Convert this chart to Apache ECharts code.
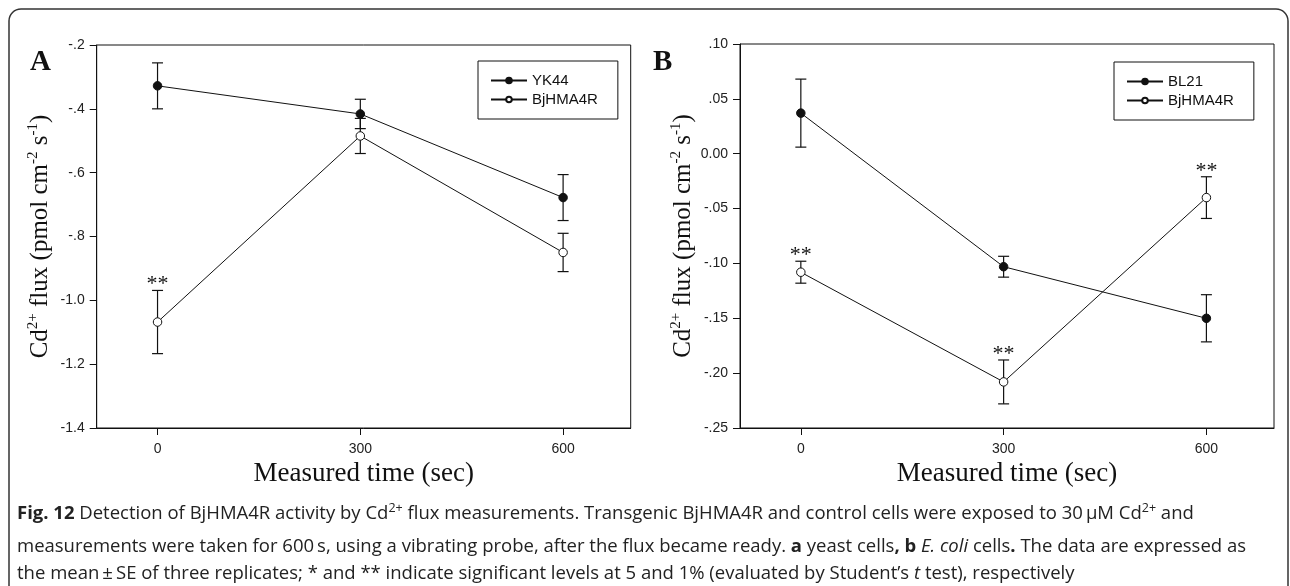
<!DOCTYPE html>
<html><head><meta charset="utf-8">
<script src="https://cdn.jsdelivr.net/npm/echarts@6/dist/echarts.min.js"></script>
<style>html,body{margin:0;padding:0;background:#fff}#c{width:1290px;height:586px}</style>
</head><body><div id="c"></div>
<script>
// ---------- data ----------
const times = [0, 300, 600];
const xTicks = [0, 300, 600];
// Panel A: yeast cells
const aYK44 = [-0.328, -0.416, -0.678];
const aYK44SE = [0.072, 0.046, 0.072];
const aBjHMA4R = [-1.068, -0.485, -0.850];
const aBjHMA4RSE = [0.099, 0.055, 0.060];
const aStars = [1, 0, 0];
// Panel B: E. coli cells
const bBL21 = [0.037, -0.103, -0.150];
const bBL21SE = [0.031, 0.0095, 0.0215];
const bBjHMA4R = [-0.108, -0.208, -0.040];
const bBjHMA4RSE = [0.010, 0.020, 0.019];
const bStars = [1, 1, 1];

const INK = '#111';
function fmt(d) {
  return function (v) {
    if (Math.abs(v) < 1e-9) return (0).toFixed(d);
    let s = Math.abs(v).toFixed(d);
    if (s.charAt(0) === '0') s = s.slice(1);
    return (v < 0 ? '-' : '') + s;
  };
}
function errData(m, se, st) {
  return times.map((t, i) => [t, m[i], se[i], st ? st[i] : 0]);
}
function errRender(params, api) {
  const x = api.value(0), m = api.value(1), se = api.value(2), star = api.value(3);
  const top = api.coord([x, m + se]);
  const bot = api.coord([x, m - se]);
  const hw = 5.5;
  const st = { stroke: INK, lineWidth: 1.2 };
  const ch = [
    { type: 'line', shape: { x1: top[0], y1: top[1], x2: bot[0], y2: bot[1] }, style: st },
    { type: 'line', shape: { x1: top[0] - hw, y1: top[1], x2: top[0] + hw, y2: top[1] }, style: st },
    { type: 'line', shape: { x1: bot[0] - hw, y1: bot[1], x2: bot[0] + hw, y2: bot[1] }, style: st }
  ];
  if (star) {
    ch.push({ type: 'text', style: { text: '**', x: top[0], y: top[1] - 6, align: 'center', verticalAlign: 'middle',
      fontSize: 22, fontFamily: '"Liberation Serif", "Times New Roman", serif', fill: INK } });
  }
  return { type: 'group', children: ch };
}
function lineSeries(name, idx, data, filled) {
  return {
    type: 'line', name: name, xAxisIndex: idx, yAxisIndex: idx,
    data: times.map((t, i) => [t, data[i]]),
    symbol: 'circle', symbolSize: 8.5,
    lineStyle: { color: INK, width: 1 },
    itemStyle: { color: filled ? INK : '#fff', borderColor: INK, borderWidth: 1 },
    z: 5, animation: false
  };
}
function errSeries(idx, m, se, st) {
  return { type: 'custom', name: 'err' + idx + m[0], xAxisIndex: idx, yAxisIndex: idx,
    data: errData(m, se, st), encode: { x: 0, y: 1 }, renderItem: errRender, z: 3, clip: false, animation: false };
}
const serif = '"Liberation Serif", "Times New Roman", serif';
const sans = '"Liberation Sans", Arial, sans-serif';
function xAxisCfg(idx) {
  return {
    type: 'value', gridIndex: idx, min: -90, max: 700,
    name: 'Measured time (sec)', nameLocation: 'middle', nameGap: 26,
    nameTextStyle: { fontFamily: serif, fontSize: 27, color: INK },
    axisLine: { show: true, onZero: false, lineStyle: { color: INK, width: 1 } },
    axisTick: { show: true, customValues: xTicks, length: 7, lineStyle: { color: INK } },
    axisLabel: { customValues: xTicks, fontFamily: sans, fontSize: 14, color: '#222', margin: 14 },
    splitLine: { show: false }
  };
}
const yName = '{n|Cd}{s|2+}{n| flux (pmol cm}{s|-2}{n| s}{s|-1}{n|)}';
function yAxisCfg(idx, min, max, step, d) {
  return {
    type: 'value', gridIndex: idx, min: min, max: max, interval: step,
    name: yName, nameLocation: 'middle', nameGap: 42,
    nameTextStyle: { rich: {
      n: { fontFamily: serif, fontSize: 25, color: INK, lineHeight: 29 },
      s: { fontFamily: serif, fontSize: 15, color: INK, lineHeight: 17, verticalAlign: 'top' } } },
    axisLine: { show: true, onZero: false, lineStyle: { color: INK, width: 1 } },
    axisTick: { show: true, length: 7, lineStyle: { color: INK } },
    axisLabel: { formatter: fmt(d), fontFamily: sans, fontSize: 14, color: '#222', margin: 12 },
    splitLine: { show: false }
  };
}
function legendCfg(left, top, names) {
  return {
    data: names, orient: 'vertical', left: left, top: top,
    padding: [12, 20, 12, 12], itemWidth: 36, itemHeight: 7, itemGap: 4,
    borderColor: INK, borderWidth: 1, backgroundColor: '#fff',
    textStyle: { fontFamily: sans, fontSize: 15, color: INK },
    selectedMode: false
  };
}
const capN = { fontFamily: '"Open Sans", "Noto Sans", sans-serif', fontSize: 18.5, lineHeight: 24, fill: '#222' };
const capRich = {
  n: capN,
  b: Object.assign({}, capN, { fontWeight: 'bold' }),
  i: Object.assign({}, capN, { fontStyle: 'italic' }),
  s: Object.assign({}, capN, { fontSize: 12.5, lineHeight: 14, verticalAlign: 'top' })
};
const capLines = [
  '{b|Fig. 12}{n| Detection of BjHMA4R activity by Cd}{s|2+}{n| flux measurements. Transgenic BjHMA4R and control cells were exposed to 30\u2009µM Cd}{s|2+}{n| and}',
  '{n|measurements were taken for 600\u2009s, using a vibrating probe, after the flux became ready. }{b|a}{n| yeast cells}{b|,}{n| }{b|b}{n| }{i|E. coli}{n| cells}{b|.}{n| The data are expressed as}',
  '{n|the mean\u2009±\u2009SE of three replicates; * and ** indicate significant levels at 5 and 1% (evaluated by Student\u2019s }{i|t}{n| test), respectively}'
];
const capY = [502, 535, 562];

const chart = echarts.init(document.getElementById('c'), null, { renderer: 'canvas' });
chart.setOption({
  animation: false,
  backgroundColor: '#fff',
  grid: [
    { left: 96.7, top: 45, width: 534, height: 383, show: true, borderColor: INK, borderWidth: 1, containLabel: false },
    { left: 740, top: 44, width: 534, height: 384, show: true, borderColor: INK, borderWidth: 1, containLabel: false }
  ],
  xAxis: [xAxisCfg(0), xAxisCfg(1)],
  yAxis: [yAxisCfg(0, -1.4, -0.2, 0.2, 1), yAxisCfg(1, -0.25, 0.10, 0.05, 2)],
  legend: [legendCfg(478, 61, ['YK44', 'BjHMA4R']), legendCfg(1114, 62, ['BL21', 'BjHMA4R'])],
  series: [
    errSeries(0, aYK44, aYK44SE, null),
    errSeries(0, aBjHMA4R, aBjHMA4RSE, aStars),
    lineSeries('YK44', 0, aYK44, true),
    lineSeries('BjHMA4R', 0, aBjHMA4R, false),
    errSeries(1, bBL21, bBL21SE, null),
    errSeries(1, bBjHMA4R, bBjHMA4RSE, bStars),
    lineSeries('BL21', 1, bBL21, true),
    lineSeries('BjHMA4R', 1, bBjHMA4R, false)
  ],
  graphic: [
    { type: 'rect', shape: { x: 9, y: 9, width: 1279, height: 640, r: 12 }, style: { fill: 'none', stroke: '#333', lineWidth: 1.5 }, z: -1, silent: true },
    { type: 'text', x: 30, y: 48, style: { text: 'A', font: 'bold 29px ' + serif, fill: INK, verticalAlign: 'alphabetic' } },
    { type: 'text', x: 653, y: 48, style: { text: 'B', font: 'bold 29px ' + serif, fill: INK, verticalAlign: 'alphabetic' } }
  ].concat(capLines.map((t, i) => ({ type: 'text', x: 17, y: capY[i], style: { text: t, rich: capRich, verticalAlign: 'top' } })))
});
</script></body></html>
